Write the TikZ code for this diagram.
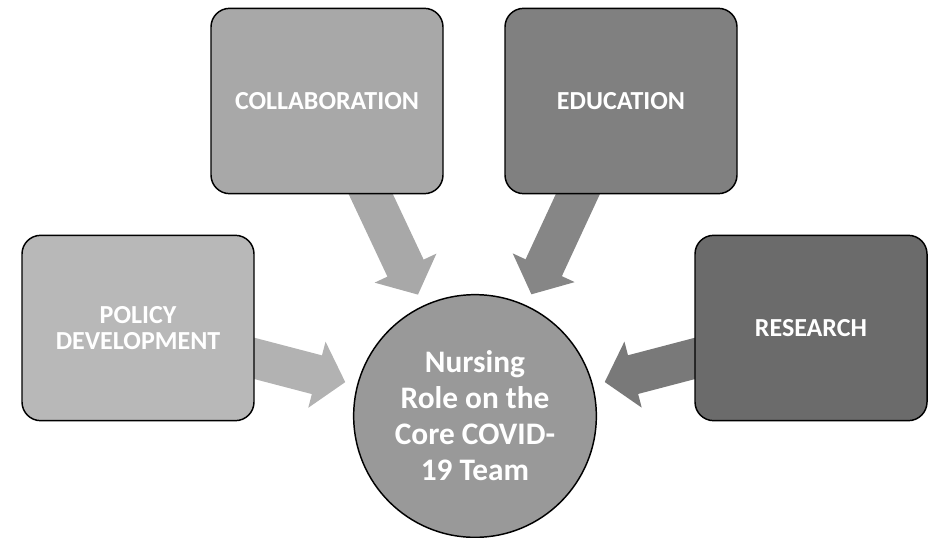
\documentclass[tikz,border=0pt]{standalone}
\usepackage{fontspec}
\setmainfont{Carlito}
\usetikzlibrary{arrows.meta,backgrounds}
\definecolor{policyfill}{gray}{0.72}
\definecolor{collabfill}{gray}{0.66}
\definecolor{educfill}{gray}{0.50}
\definecolor{researchfill}{gray}{0.42}
\definecolor{corefill}{gray}{0.60}
\tikzset{
  box/.style={draw=black,line width=1.1pt,rounded corners=14pt,minimum width=174pt,minimum height=139pt,
    align=center,text=white,font=\bfseries\fontsize{19.5}{20}\selectfont},
  hub/.style={circle,draw=black,line width=1.1pt,minimum size=182pt,inner sep=0pt,
    align=center,text=white,font=\bfseries\fontsize{23.5}{27}\selectfont},
  bigarrow/.style={line width=30pt,shorten >=9pt,-{Triangle[length=22pt,width=50pt]}}
}
\begin{document}
\begin{tikzpicture}[x=0.75pt,y=0.75pt,yscale=-1,xscale=1]
\useasboundingbox (0,0) rectangle (930,538);
% outer boxes
\node[box,fill=policyfill] (policy) at (138,328) {POLICY\\DEVELOPMENT};
\node[box,fill=collabfill] (collab) at (327,101) {COLLABORATION};
\node[box,fill=educfill] (educ) at (621,101) {EDUCATION};
\node[box,fill=researchfill] (research) at (811,328) {RESEARCH};
% centre
\node[hub,fill=corefill] (core) at (475,416) {Nursing\\Role on the\\Core COVID-\\19 Team};
% arrows, behind the boxes
\begin{scope}[on background layer]
\draw[bigarrow,draw=gray!60] (policy.center) -- (core);
\draw[bigarrow,draw=gray!68] (collab.center) -- (core);
\draw[bigarrow,draw=gray!95] (educ.center) -- (core);
\draw[bigarrow,draw=gray!95!black] (research.center) -- (core);
\end{scope}
\end{tikzpicture}
\end{document}
